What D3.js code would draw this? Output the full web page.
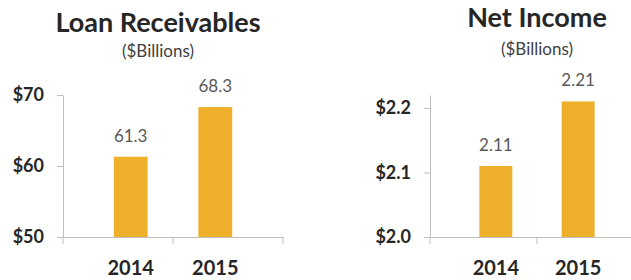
<!DOCTYPE html>
<html>
<head>
<meta charset="utf-8">
<script src="https://cdn.jsdelivr.net/npm/d3@7"></script>
<style>
body { margin: 0; background: #fff; }
text { font-family: Lato, "Open Sans", sans-serif; }
</style>
</head>
<body>
<div id="chart"></div>
<script>
// data
var years = ['2014', '2015'];
var loanValues = [61.3, 68.3];
var loanTicks = [50, 60, 70];
var incomeValues = [2.11, 2.21];
var incomeTicks = [2.0, 2.1, 2.2];

var width = 631,
	height = 280,
	barColor = '#EEB02A',
	axisColor = '#BFBFBF';

var svg = d3.select('#chart')
	.append('svg')
	.attr('width', width)
	.attr('height', height);

// two small panels, same layout
var panels = [
	{title: 'Loan Receivables', values: loanValues, ticks: loanTicks,
	 domain: [50, 70], x0: 63, x1: 283, yTop: 95, yBottom: 237,
	 titleX: 158, titleY: 32, subY: 57,
	 tickFmt: function(d){ return '$' + d; }, valFmt: d3.format('.1f')},
	{title: 'Net Income', values: incomeValues, ticks: incomeTicks,
	 domain: [2.0, 2.22], x0: 430, x1: 644, yTop: 95, yBottom: 237,
	 titleX: 537, titleY: 27, subY: 55,
	 tickFmt: function(d){ return '$' + d3.format('.1f')(d); }, valFmt: d3.format('.2f')}
];

panels.forEach(function(p){
	var g = svg.append('g');

	var x = d3.scaleBand().domain(years).range([p.x0, p.x1]).padding(0.6);
	var y = d3.scaleLinear().domain(p.domain).range([p.yBottom, p.yTop]);

	// titles
	g.append('text')
		.attr('x', p.titleX).attr('y', p.titleY)
		.attr('text-anchor', 'middle')
		.style('font-size', '27px').style('font-weight', 'bold')
		.attr('fill', '#262626')
		.text(p.title);
	g.append('text')
		.attr('x', p.titleX).attr('y', p.subY)
		.attr('text-anchor', 'middle')
		.style('font-size', '17px')
		.attr('fill', '#404040')
		.text('($Billions)');

	// bars
	g.selectAll('rect.bar').data(p.values).enter()
		.append('rect')
		.classed('bar', true)
		.attr('x', function(d, i){ return x(years[i]); })
		.attr('width', x.bandwidth())
		.attr('y', function(d){ return y(d); })
		.attr('height', function(d){ return y(p.domain[0]) - y(d); })
		.attr('fill', barColor);

	// value labels
	g.selectAll('text.val').data(p.values).enter()
		.append('text')
		.classed('val', true)
		.attr('x', function(d, i){ return x(years[i]) + x.bandwidth() / 2; })
		.attr('y', function(d){ return y(d) - 15; })
		.attr('text-anchor', 'middle')
		.style('font-size', '17px')
		.attr('fill', '#595959')
		.text(p.valFmt);

	// y axis
	var yAxis = g.append('g')
		.attr('transform', 'translate(' + p.x0 + ',0)')
		.call(d3.axisLeft(y).tickValues(p.ticks).tickFormat(p.tickFmt).tickSize(6).tickSizeOuter(0).tickPadding(13));
	yAxis.select('.domain').attr('stroke', axisColor);
	yAxis.selectAll('.tick line').attr('stroke', axisColor);
	yAxis.selectAll('.tick text')
		.style('font-size', '18px').style('font-weight', 'bold')
		.attr('fill', '#262626');

	// x axis
	var xAxis = g.append('g')
		.attr('transform', 'translate(0,' + p.yBottom + ')')
		.call(d3.axisBottom(x).tickSize(0).tickPadding(24));
	xAxis.select('.domain').attr('stroke', axisColor);
	xAxis.selectAll('.tick text')
		.style('font-size', '20px').style('font-weight', 'bold')
		.attr('fill', '#262626');
	// category separators
	xAxis.selectAll('line.sep').data([p.x0, (p.x0 + p.x1) / 2, p.x1]).enter()
		.append('line')
		.classed('sep', true)
		.attr('x1', function(d){ return d; }).attr('x2', function(d){ return d; })
		.attr('y1', 0).attr('y2', 7)
		.attr('stroke', axisColor);
});
</script>
</body>
</html>
